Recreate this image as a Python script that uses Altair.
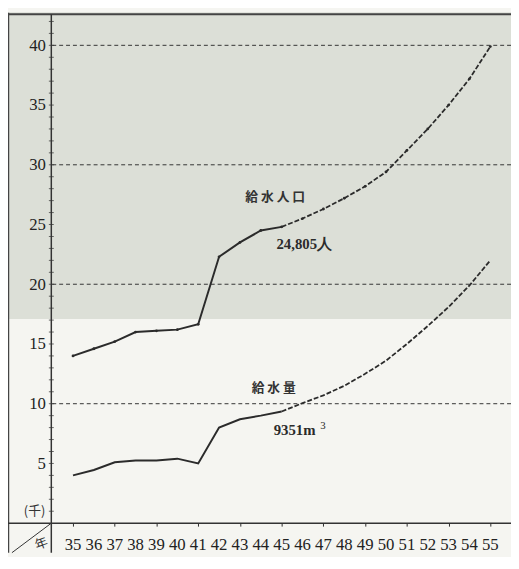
import altair as alt
import pandas as pd

years = list(range(35, 56))
population = [14.0, 14.6, 15.2, 16.0, 16.1, 16.2, 16.65, 22.3, 23.5, 24.5, 24.805,
              25.5, 26.3, 27.2, 28.2, 29.4, 31.2, 33.0, 35.0, 37.2, 39.9]
water = [4.0, 4.45, 5.1, 5.25, 5.25, 5.4, 5.0, 8.0, 8.7, 9.0, 9.351,
         10.05, 10.7, 11.5, 12.5, 13.6, 15.0, 16.5, 18.1, 19.9, 22.0]
last_actual = 45
y_labels = [5, 10, 15, 20, 25, 30, 35, 40]
grid_values = [10, 20, 30, 40]
minor_ticks = list(range(1, 43))

W, H = 467, 517
PT, PL, PB = 2, 44, 30

rows = []
for yr, p, w in zip(years, population, water):
    rows.append({"year": yr, "value": p, "series": "pop"})
    rows.append({"year": yr, "value": w, "series": "water"})
df = pd.DataFrame(rows)
actual = df[df.year <= last_actual]
proj = df[df.year >= last_actual]

xs = alt.Scale(domain=[33.96, 55.99], nice=False, zero=False)
ys = alt.Scale(domain=[0, 42.6], nice=False, zero=False)
one = pd.DataFrame({"a": [0]})
INK = "#2b2b2b"
SERIF = "Liberation Serif"
CJK = "Noto Sans CJK JP"

shade = alt.Chart(one).mark_rect(color="#dcdfd7").encode(
    x=alt.value(-PL), x2=alt.value(W),
    y=alt.Y(datum=17.1, scale=ys), y2=alt.value(-PT))

grid = alt.Chart(pd.DataFrame({"g": grid_values})).mark_rule(
    color="#333333", strokeWidth=1, strokeDash=[4, 3]).encode(
    y=alt.Y("g:Q", scale=ys))

minor = alt.Chart(pd.DataFrame({"t": minor_ticks})).mark_tick(
    orient="horizontal", color=INK, size=5, thickness=1).encode(
    y=alt.Y("t:Q", scale=ys), x=alt.value(0))

base_axis_x = alt.Axis(values=years, domain=False, grid=False, tickSize=3, tickColor=INK,
                       labels=False, title=None, zindex=1)
base_axis_y = alt.Axis(values=y_labels, domain=False, grid=False, ticks=False,
                       labelFont=SERIF, labelFontSize=17, labelColor="#222222",
                       labelPadding=6, title=None, labelOverlap=False, zindex=1)

solid = alt.Chart(actual).mark_line(color=INK, strokeWidth=2).encode(
    x=alt.X("year:Q", scale=xs, axis=base_axis_x),
    y=alt.Y("value:Q", scale=ys, axis=base_axis_y),
    detail="series:N")

dashed = alt.Chart(proj).mark_line(color=INK, strokeWidth=1.8, strokeDash=[5, 2]).encode(
    x=alt.X("year:Q", scale=xs), y=alt.Y("value:Q", scale=ys), detail="series:N")

dots = alt.Chart(df[df.series == "pop"]).mark_point(
    filled=True, color=INK, size=8, opacity=1).encode(
    x=alt.X("year:Q", scale=xs), y=alt.Y("value:Q", scale=ys))

year_text = alt.Chart(pd.DataFrame({"year": years})).mark_text(
    font=SERIF, fontSize=17, color="#222222", baseline="middle", align="center").encode(
    x=alt.X("year:Q", scale=xs), y=alt.value(H + 22), text="year:Q")

cjk_df = pd.DataFrame([
    {"x": 44.69, "y": 27.3, "t": "給 水 人 口"},
    {"x": 44.62, "y": 11.3, "t": "給 水 量"},
])
cjk_text = alt.Chart(cjk_df).mark_text(color="#333333", font=CJK, fontSize=13,
                                       fontWeight="bold", align="center").encode(
    x=alt.X("x:Q", scale=xs), y=alt.Y("y:Q", scale=ys), text="t:N")

num_df = pd.DataFrame([
    {"x": 44.75, "y": 23.33, "t": "24,805人"},
    {"x": 44.62, "y": 7.83, "t": "9351m"},
])
num_text = alt.Chart(num_df).mark_text(color="#2b2b2b", font=SERIF, fontSize=15,
                                       fontWeight="bold", align="left").encode(
    x=alt.X("x:Q", scale=xs), y=alt.Y("y:Q", scale=ys), text="t:N")

sup_df = pd.DataFrame([{"x": 46.85, "y": 8.15, "t": "3"}])
sup_text = alt.Chart(sup_df).mark_text(color="#2b2b2b", font=SERIF, fontSize=11,
                                       align="left").encode(
    x=alt.X("x:Q", scale=xs), y=alt.Y("y:Q", scale=ys), text="t:N")

sen = alt.Chart(one).mark_text(text="(千)", font=CJK, fontSize=13, color="#333333",
                               align="center", baseline="middle").encode(
    x=alt.value(-17), y=alt.Y(datum=1.0, scale=ys))
nen = alt.Chart(one).mark_text(text="年", font=CJK, fontSize=13, color="#333333",
                               angle=340, align="center", baseline="middle").encode(
    x=alt.value(-10), y=alt.value(H + 21))

left_border = alt.Chart(one).mark_rule(color="#444444", strokeWidth=1.5).encode(
    x=alt.value(-PL + 0.5), y=alt.value(-PT + 0.5), y2=alt.value(H + PB))
top_border = alt.Chart(one).mark_rule(color="#444444", strokeWidth=2).encode(
    x=alt.value(-PL), x2=alt.value(W), y=alt.value(0))
y_axis_line = alt.Chart(one).mark_rule(color="#333333", strokeWidth=1.5).encode(
    x=alt.value(0), y=alt.value(0), y2=alt.value(H + PB))
x_axis_line = alt.Chart(one).mark_rule(color="#333333", strokeWidth=1.5).encode(
    x=alt.value(-PL), x2=alt.value(W), y=alt.value(H))
diag = alt.Chart(one).mark_rule(color="#333333", strokeWidth=1).encode(
    x=alt.value(-PL + 4), y=alt.value(H + PB), x2=alt.value(0), y2=alt.value(H))

chart = alt.layer(
    shade, grid, minor, solid, dashed, dots, year_text, cjk_text, num_text, sup_text,
    sen, nen, left_border, top_border, y_axis_line, x_axis_line, diag
).properties(
    width=W, height=H,
    padding={"left": PL, "top": PT, "right": 0, "bottom": PB},
    autosize=alt.AutoSizeParams(type="none"),
    background="#f5f5f1",
).configure_view(stroke=None)

chart.save("out.html", embed_options={"renderer": "svg", "actions": False})
